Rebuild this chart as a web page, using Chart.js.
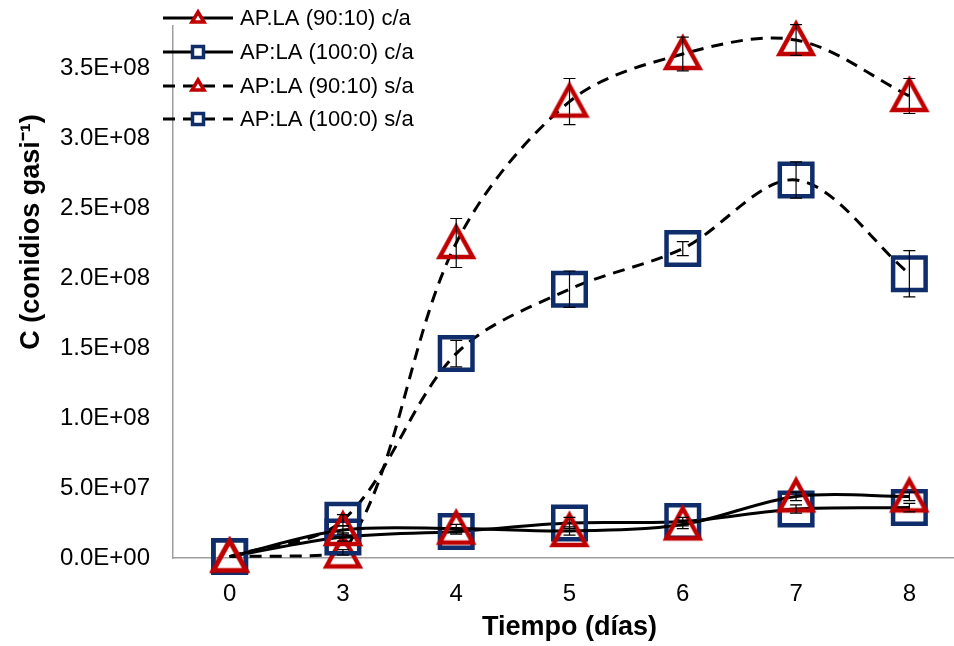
<!DOCTYPE html>
<html>
<head>
<meta charset="utf-8">
<script src="https://cdn.jsdelivr.net/npm/chart.js@4.4.1/dist/chart.umd.min.js"></script>
<style>
  html, body { margin: 0; padding: 0; background: #fff; overflow: hidden; }
  #chart { display: block; }
</style>
</head>
<body>
<canvas id="chart" width="966" height="646"></canvas>
<script>
// dias de muestreo
const days = ['0', '3', '4', '5', '6', '7', '8']

// conidios por gasa
const redCA = [1e6, 2.0e7, 2.1e7, 1.93e7, 2.4e7, 4.4e7, 4.4e7]
const blueCA = [1e6, 1.5e7, 1.9e7, 2.5e7, 2.6e7, 3.5e7, 3.6e7]
const redSA = [1e6, 4e6, 2.25e8, 3.26e8, 3.6e8, 3.7e8, 3.3e8]
const blueSA = [1e6, 2.7e7, 1.46e8, 1.92e8, 2.21e8, 2.7e8, 2.03e8]

// desviaciones
const redCAerr = [0, 3e6, 3e6, 3e6, 3e6, 3e6, 3e6]
const blueCAerr = [0, 3e6, 2e6, 4e6, 3e6, 3e6, 3e6]
const redSAerr = [0, 2e6, 1.75e7, 1.65e7, 1.2e7, 1.1e7, 1.25e7]
const blueSAerr = [0, 4e6, 9.5e6, 1.3e7, 5e6, 1.3e7, 1.65e7]

const yTicks = [0, 5e7, 1e8, 1.5e8, 2e8, 2.5e8, 3e8, 3.5e8]
const yMax = 3.8e8

const labels = ['AP.LA (90:10) c/a', 'AP:LA (100:0) c/a', 'AP:LA (90:10) s/a', 'AP:LA (100:0) s/a']
const yTitle = 'C (conidios gasi⁻¹)'

const RED = '#C00000'
const BLUE = '#0F2D6B'
const FONT = '"Liberation Sans", Arial, sans-serif'

const fmtSci = (v) => {
  const [m, e] = Number(v).toExponential(1).split('e')
  const sign = e[0] === '-' ? '-' : '+'
  const exp = e.replace(/[+-]/, '').padStart(2, '0')
  return m + 'E' + sign + exp
}

// triangulo centrado en su caja, como los marcadores de Excel
const triangleImg = (() => {
  const c = document.createElement('canvas')
  c.width = 42
  c.height = 42
  const g = c.getContext('2d')
  g.strokeStyle = RED
  g.lineWidth = 4.5
  g.lineJoin = 'miter'
  g.beginPath()
  g.moveTo(21, 5)
  g.lineTo(37.5, 35)
  g.lineTo(4.5, 35)
  g.closePath()
  g.stroke()
  return c
})()

const makeSet = (label, data, errors, color, shape, dashed) => {
  const isTri = shape === 'triangle'
  return {
    label,
    data,
    errors,
    borderColor: '#000',
    borderWidth: 3,
    borderDash: dashed ? [12, 8] : [],
    tension: 0.33,
    pointStyle: isTri ? triangleImg : 'rect',
    pointRadius: isTri ? 21 : 23,
    pointHoverRadius: isTri ? 21 : 23,
    pointBorderWidth: 4.5,
    pointBorderColor: color,
    pointBackgroundColor: 'rgba(0,0,0,0)',
    markerShape: shape,
    markerColor: color,
    clip: false,
  }
}

const errorBars = {
  id: 'errorBars',
  afterDatasetsDraw(chart) {
    const ctx = chart.ctx
    const y = chart.scales.y
    ctx.save()
    ctx.strokeStyle = '#000'
    ctx.lineWidth = 1.2
    chart.data.datasets.forEach((ds, i) => {
      const meta = chart.getDatasetMeta(i)
      meta.data.forEach((pt, j) => {
        const err = ds.errors[j]
        if (!err) return
        const top = y.getPixelForValue(ds.data[j] + err)
        const bot = y.getPixelForValue(ds.data[j] - err)
        ctx.beginPath()
        ctx.moveTo(pt.x, top); ctx.lineTo(pt.x, bot)
        ctx.moveTo(pt.x - 6, top); ctx.lineTo(pt.x + 6, top)
        ctx.moveTo(pt.x - 6, bot); ctx.lineTo(pt.x + 6, bot)
        ctx.stroke()
      })
    })
    ctx.restore()
  }
}

const drawMarker = (ctx, shape, x, y, color) => {
  ctx.save()
  ctx.strokeStyle = color
  ctx.lineWidth = 3.5
  ctx.setLineDash([])
  ctx.beginPath()
  if (shape === 'triangle') {
    ctx.moveTo(x, y - 6)
    ctx.lineTo(x + 6, y + 4)
    ctx.lineTo(x - 6, y + 4)
    ctx.closePath()
  } else {
    ctx.rect(x - 5.5, y - 5.5, 11, 11)
  }
  ctx.fillStyle = '#fff'
  ctx.fill()
  ctx.stroke()
  ctx.restore()
}

// leyenda y titulo del eje y dibujados a mano para ubicarlos como en el original
const customLegend = {
  id: 'customLegend',
  afterDraw(chart) {
    const ctx = chart.ctx
    const rows = [18, 52, 86, 119]
    ctx.save()
    chart.data.datasets.forEach((ds, i) => {
      const ry = rows[i]
      ctx.strokeStyle = '#000'
      ctx.lineWidth = 3
      ctx.setLineDash(ds.borderDash)
      ctx.beginPath()
      ctx.moveTo(163, ry)
      ctx.lineTo(233, ry)
      ctx.stroke()
      drawMarker(ctx, ds.markerShape, 198, ry, ds.markerColor)
      ctx.fillStyle = '#000'
      ctx.font = '22px ' + FONT
      ctx.textBaseline = 'middle'
      ctx.textAlign = 'left'
      ctx.fillText(ds.label, 240, ry + 1)
    })

    ctx.translate(32, 232)
    ctx.rotate(-Math.PI / 2)
    ctx.font = 'bold 27px ' + FONT
    ctx.textAlign = 'center'
    ctx.textBaseline = 'middle'
    ctx.fillText(yTitle, 0, 0)
    ctx.restore()
  }
}

new Chart(document.getElementById('chart'), {
  type: 'line',
  data: {
    labels: days,
    datasets: [
      makeSet(labels[0], redCA, redCAerr, RED, 'triangle', false),
      makeSet(labels[1], blueCA, blueCAerr, BLUE, 'rect', false),
      makeSet(labels[2], redSA, redSAerr, RED, 'triangle', true),
      makeSet(labels[3], blueSA, blueSAerr, BLUE, 'rect', true),
    ],
  },
  options: {
    responsive: false,
    animation: false,
    devicePixelRatio: 1,
    layout: { autoPadding: false, padding: { top: 26, right: 0, left: 0, bottom: 0 } },
    plugins: {
      legend: { display: false },
      tooltip: { enabled: false },
    },
    scales: {
      x: {
        offset: true,
        grid: { display: false, drawTicks: false },
        border: { display: true, color: '#9E9E9E', width: 1.5 },
        ticks: {
          color: '#000',
          padding: 22,
          font: { family: FONT, size: 24 },
        },
        title: {
          display: true,
          text: 'Tiempo (días)',
          color: '#000',
          padding: { top: 0, bottom: 2 },
          font: { family: FONT, size: 27, weight: 'bold' },
        },
        afterFit(scale) {
          scale.height = 88
          scale.paddingLeft = 0
          scale.paddingRight = 0
        },
      },
      y: {
        min: 0,
        max: yMax,
        grid: { display: false, drawTicks: false },
        border: { display: true, color: '#9E9E9E', width: 1.5 },
        afterBuildTicks(scale) {
          scale.ticks = yTicks.map((v) => ({ value: v }))
        },
        ticks: {
          color: '#000',
          padding: 23,
          font: { family: FONT, size: 24 },
          callback: (v) => fmtSci(v),
        },
        title: { display: false },
        afterFit(scale) {
          scale.width = 173
          scale.paddingTop = 0
          scale.paddingBottom = 0
        },
      },
    },
  },
  plugins: [errorBars, customLegend],
})
</script>
</body>
</html>
